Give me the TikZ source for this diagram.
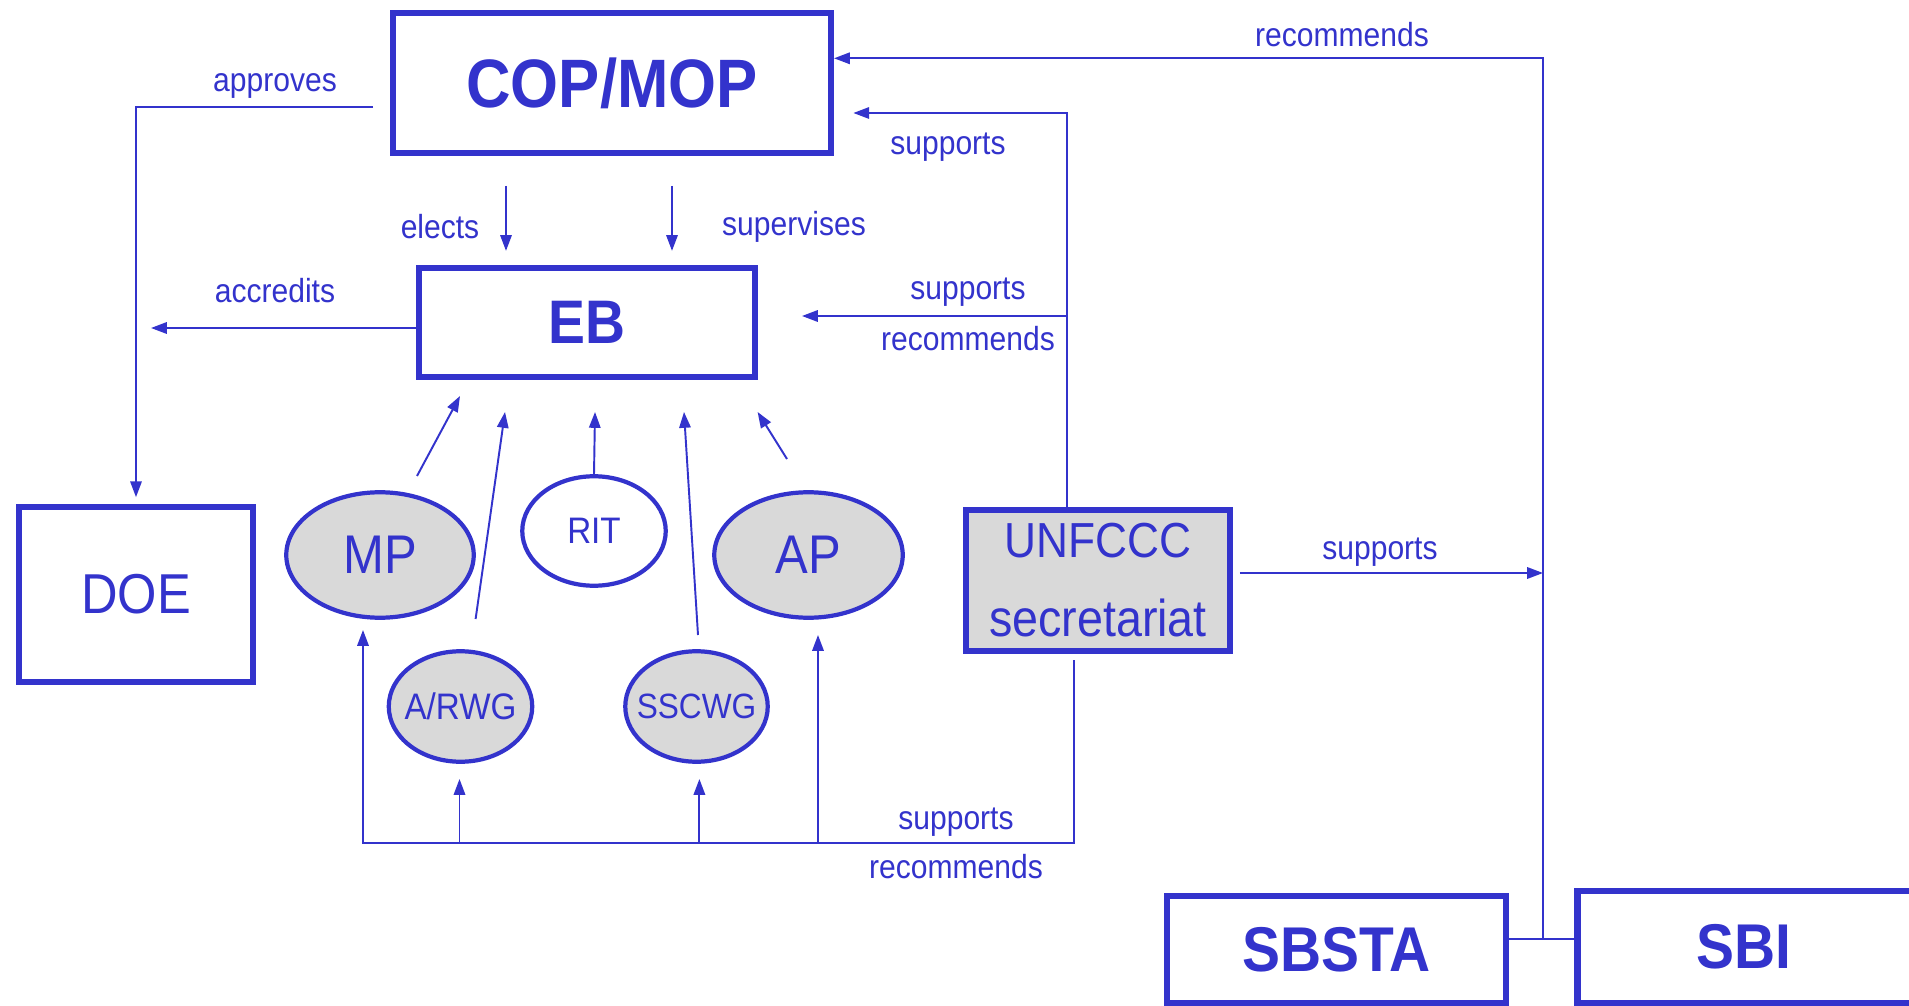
\documentclass[tikz,border=0pt]{standalone}
\usepackage{fontspec}
\setmainfont{Liberation Sans}[FakeStretch=0.9]
\usetikzlibrary{arrows.meta,shapes.geometric}
\definecolor{cblue}{RGB}{51,51,204}
\definecolor{cgray}{RGB}{217,217,217}
\newcommand{\zw}[1]{\makebox[0pt]{#1}}
\begin{document}
\begin{tikzpicture}[x=0.02cm,y=-0.02cm,
  box/.style={draw=cblue,line width=3.5pt,rectangle,inner sep=0pt,text=cblue},
  ell/.style={draw=cblue,line width=2.4pt,ellipse,fill=cgray,inner sep=0pt,text=cblue},
  conn/.style={draw=cblue,line width=1.1pt},
  arr/.style={conn,-{Triangle[length=9pt,width=6.5pt]}},
  lbl/.style={text=cblue,font=\fontsize{19pt}{22pt}\selectfont,inner sep=0pt},
  bigb/.style={font=\fontsize{#1}{#1}\selectfont\bfseries},
  bigr/.style={font=\fontsize{#1}{#1}\selectfont}]
\useasboundingbox[fill=white] (0,0) rectangle (1909,1006);
\clip (0,0) rectangle (1909,1006);

% boxes
\node[box,bigb=39pt,minimum width=8.76cm,minimum height=2.8cm] (cop) at (612,83) {COP/MOP};
\node[box,bigb=35pt,minimum width=6.72cm,minimum height=2.18cm] (eb) at (587,322.5) {EB};
\node[box,bigr=32pt,minimum width=4.67cm,minimum height=3.49cm] (doe) at (136,594.5) {DOE};
\node[box,fill=cgray,align=center,font=\fontsize{28pt}{45pt}\selectfont,minimum width=5.27cm,minimum height=2.81cm] (unf) at (1098,580.5) {UNFCCC\\\fontsize{29.5pt}{45pt}\selectfont secretariat};
\node[box,bigb=36pt,minimum width=6.78cm,minimum height=2.14cm] (sbsta) at (1336.5,949.5) {SBSTA};
\node[box,bigb=36pt,minimum width=6.9cm,minimum height=2.24cm] (sbi) at (1750,947) {\hspace*{-0.24cm}SBI};

% ellipses
\node[ell,bigr=31pt,minimum width=3.75cm,minimum height=2.51cm] (mp) at (380,555) {\zw{MP}};
\node[ell,fill=white,bigr=21pt,minimum width=2.87cm,minimum height=2.19cm] (rit) at (594,531) {\zw{RIT}};
\node[ell,bigr=31pt,minimum width=3.77cm,minimum height=2.51cm] (ap) at (808.5,555) {\zw{AP}};
\node[ell,bigr=21pt,minimum width=2.87cm,minimum height=2.21cm] (arwg) at (460.5,706.5) {\zw{A/RWG}};
\node[ell,bigr=20pt,minimum width=2.85cm,minimum height=2.21cm] (sscwg) at (696.5,706.5) {\zw{SSCWG}};

% approves
\coordinate (apS) at (373,107);
\draw[arr,shorten >=4pt] (apS) -| (doe.north);
\node[lbl] (lapp) at (275,86) {approves};

% elects / supervises
\coordinate (el) at (506,186);
\coordinate (su) at (672,186);
\draw[arr,shorten >=8pt] (el) -- (el |- eb.north);
\draw[arr,shorten >=8pt] (su) -- (su |- eb.north);
\node[lbl] (lel) at (440,227) {elects};
\node[lbl] (lsu) at (794,227) {supervises};

% accredits
\coordinate (acc) at (151,328);
\draw[arr] (acc -| eb.west) -- (acc);
\node[lbl] (lacc) at (275,291) {accredits};

% SBSTA - SBI and recommends to COP/MOP
\coordinate (jn) at (1543,938.7);
\coordinate (rt) at (1543,58.3);
\draw[conn] (sbsta.east |- jn) -- (sbi.west |- jn);
\draw[arr] (jn) -- (rt) -- (cop.east |- rt);
\node[lbl] (lrec) at (1342,35) {recommends};

% UNFCCC top
\coordinate (u1) at (1067,113);
\coordinate (u2) at (1067,316);
\coordinate (u2e) at (802,316);
\draw[arr,shorten >=11pt] (u1 |- unf.north) -- (u1) -- (cop.east |- u1);
\draw[arr] (u2) -- (u2e);
\node[lbl] (lsup1) at (948,147) {supports};
\node[lbl] (lsup2) at (968,292) {supports};
\node[lbl] (lrec2) at (968,339) {recommends};

% UNFCCC right
\coordinate (sr) at (1543,573);
\draw[arr] ([xshift=4pt]unf.east |- sr) -- (sr);
\node[lbl] (lsup3) at (1380,552) {supports};

% UNFCCC bottom
\coordinate (b0) at (1074,660);
\coordinate (b1) at (1074,842.7);
\coordinate (b2) at (363,842.7);
\coordinate (bmp) at (363,630);
\coordinate (barw) at (459.5,779);
\coordinate (bssc) at (699.4,779);
\coordinate (bap) at (818,635);
\draw[arr] (b0) -- (b1) -- (b2) -- (bmp);
\draw[arr] (barw |- b1) -- (barw);
\draw[arr] (bssc |- b1) -- (bssc);
\draw[arr] (bap |- b1) -- (bap);
\node[lbl] (lsup4) at (956,822) {supports};
\node[lbl] (lrec4) at (956,867) {recommends};

% arrows into EB
\coordinate (m0) at (417,476); \coordinate (m1) at (460,396);
\coordinate (a0) at (475.6,619); \coordinate (a1) at (505,412);
\coordinate (r1) at (595,412);
\coordinate (s0) at (698,635); \coordinate (s1) at (684,412);
\coordinate (p0) at (787,459); \coordinate (p1) at (757.6,412);
\draw[arr] (m0) -- (m1);
\draw[arr] (a0) -- (a1);
\draw[arr] (rit.north) -- (r1);
\draw[arr] (s0) -- (s1);
\draw[arr] (p0) -- (p1);
\end{tikzpicture}
\end{document}
